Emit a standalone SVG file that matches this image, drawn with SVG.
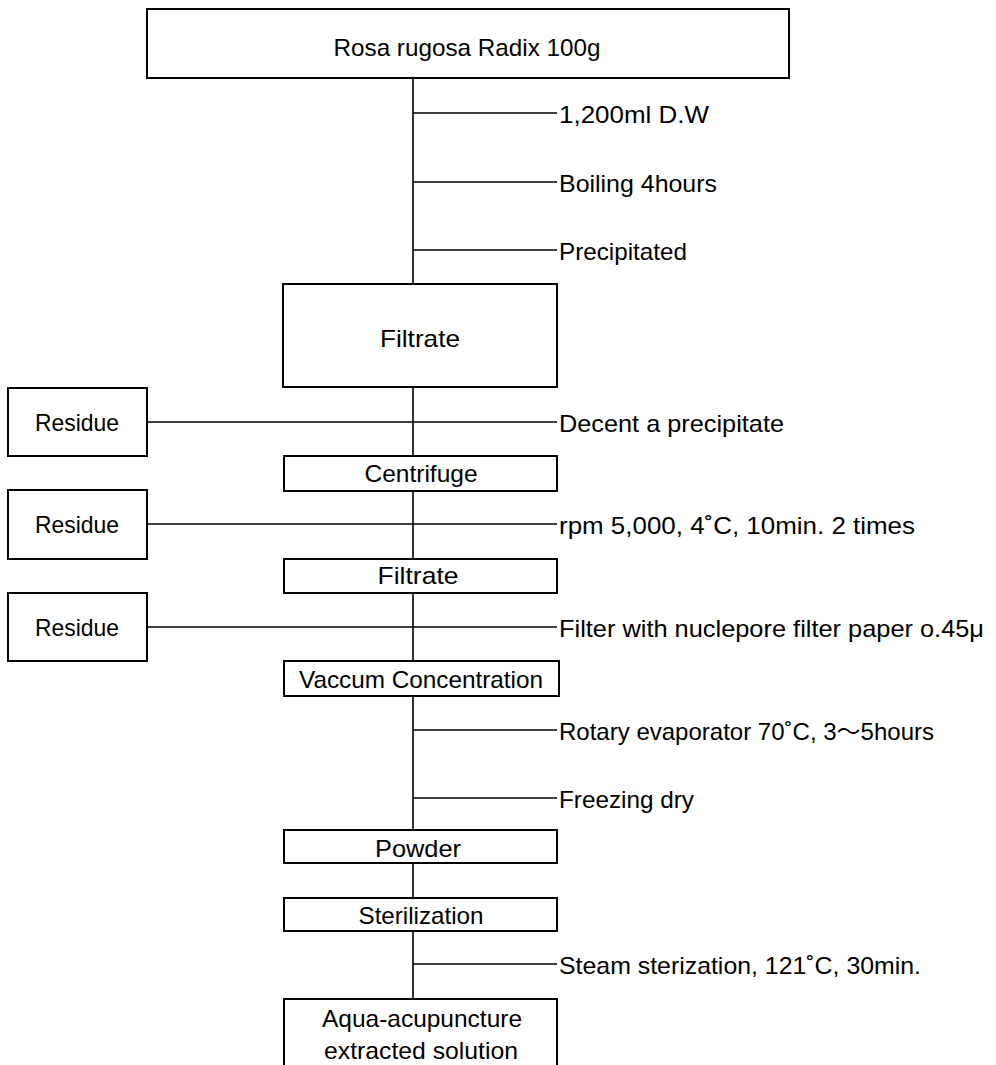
<svg xmlns="http://www.w3.org/2000/svg" width="996" height="1065" viewBox="0 0 996 1065">
<style>
.box{fill:#fff;stroke:#000;stroke-width:2}
.ln{stroke:#000;stroke-width:1.6;fill:none}
text{font-family:"Liberation Sans","Noto Sans CJK KR",sans-serif;font-size:24px;fill:#000}
.c{text-anchor:middle}
</style>
<rect width="996" height="1065" fill="#fff"/>
<g id="connectors">
<path class="ln" d="M413 78V284M413 387V456M413 491V559M413 593V661M413 696V830M413 863V898M413 931V999"/>
<path class="ln" d="M413 113H557M413 182H557M413 250H557M147 422H557M147 524H557M147 627H557M413 730H557M413 798H557M413 964H557"/>
</g>
<g id="n-rosa"><rect class="box" x="147" y="9" width="642" height="69"/><text class="c" x="467" y="56" textLength="267" lengthAdjust="spacingAndGlyphs">Rosa rugosa Radix 100g</text></g>
<g id="l-dw"><text x="559" y="123" textLength="150" lengthAdjust="spacingAndGlyphs">1,200ml D.W</text></g>
<g id="l-boil"><text x="559" y="192" textLength="158" lengthAdjust="spacingAndGlyphs">Boiling 4hours</text></g>
<g id="l-prec"><text x="559" y="260" textLength="128" lengthAdjust="spacingAndGlyphs">Precipitated</text></g>
<g id="n-filtrate1"><rect class="box" x="283" y="284" width="274" height="103"/><text class="c" x="420" y="347" textLength="80" lengthAdjust="spacingAndGlyphs">Filtrate</text></g>
<g id="n-res1"><rect class="box" x="8" y="388" width="139" height="68"/><text class="c" x="77" y="431" textLength="84" lengthAdjust="spacingAndGlyphs">Residue</text></g>
<g id="l-decent"><text x="559" y="432" textLength="225" lengthAdjust="spacingAndGlyphs">Decent a precipitate</text></g>
<g id="n-centrifuge"><rect class="box" x="284" y="456" width="273" height="35"/><text class="c" x="421" y="482" textLength="113" lengthAdjust="spacingAndGlyphs">Centrifuge</text></g>
<g id="n-res2"><rect class="box" x="8" y="490" width="139" height="69"/><text class="c" x="77" y="533" textLength="84" lengthAdjust="spacingAndGlyphs">Residue</text></g>
<g id="l-rpm"><text x="559" y="534" textLength="356" lengthAdjust="spacingAndGlyphs">rpm 5,000, 4˚C, 10min. 2 times</text></g>
<g id="n-filtrate2"><rect class="box" x="284" y="559" width="273" height="34"/><text class="c" x="418" y="584" textLength="81" lengthAdjust="spacingAndGlyphs">Filtrate</text></g>
<g id="n-res3"><rect class="box" x="8" y="593" width="139" height="68"/><text class="c" x="77" y="636" textLength="84" lengthAdjust="spacingAndGlyphs">Residue</text></g>
<g id="l-filter"><text x="559" y="637" textLength="425" lengthAdjust="spacingAndGlyphs">Filter with nuclepore filter paper o.45μ</text></g>
<g id="n-vaccum"><rect class="box" x="284" y="661" width="275" height="35"/><text class="c" x="421" y="688" textLength="244" lengthAdjust="spacingAndGlyphs">Vaccum Concentration</text></g>
<g id="l-rotary"><text x="559" y="740" textLength="375" lengthAdjust="spacingAndGlyphs">Rotary evaporator 70˚C, 3〜5hours</text></g>
<g id="l-freeze"><text x="559" y="808" textLength="135" lengthAdjust="spacingAndGlyphs">Freezing dry</text></g>
<g id="n-powder"><rect class="box" x="284" y="830" width="273" height="33"/><text class="c" x="418" y="857" textLength="86" lengthAdjust="spacingAndGlyphs">Powder</text></g>
<g id="n-steril"><rect class="box" x="284" y="898" width="273" height="33"/><text class="c" x="421" y="924" textLength="125" lengthAdjust="spacingAndGlyphs">Sterilization</text></g>
<g id="l-steam"><text x="559" y="974" textLength="362" lengthAdjust="spacingAndGlyphs">Steam sterization, 121˚C, 30min.</text></g>
<g id="n-aqua"><path class="box" d="M284 1070V999H557V1070"/><text class="c" x="422" y="1027" textLength="200" lengthAdjust="spacingAndGlyphs">Aqua-acupuncture</text><text class="c" x="421" y="1059" textLength="194" lengthAdjust="spacingAndGlyphs">extracted solution</text></g>
</svg>
